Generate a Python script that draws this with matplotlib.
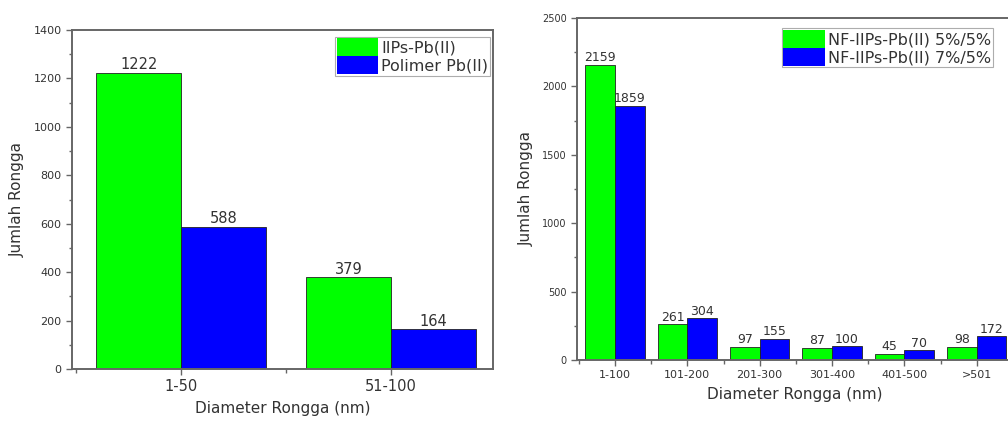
import numpy as np
import matplotlib
matplotlib.use('Agg')
import matplotlib.pyplot as plt
from matplotlib.ticker import MultipleLocator

# left panel data
left_cats = ['1-50', '51-100']
left_iips = [1222, 379]
left_polimer = [588, 164]
left_names = ['IIPs-Pb(II)', 'Polimer Pb(II)']

# right panel data
right_cats = ['1-100', '101-200', '201-300', '301-400', '401-500', '>501']
right_5 = [2159, 261, 97, 87, 45, 98]
right_7 = [1859, 304, 155, 100, 70, 172]
right_names = ['NF-IIPs-Pb(II) 5%/5%', 'NF-IIPs-Pb(II) 7%/5%']

GREEN = '#00ff00'
BLUE = '#0000ff'
TXT = '#333333'
SPINE = '#666666'

plt.rcParams['font.family'] = 'DejaVu Sans'
plt.rcParams['text.color'] = TXT
plt.rcParams['axes.labelcolor'] = TXT
plt.rcParams['xtick.color'] = SPINE
plt.rcParams['ytick.color'] = SPINE
plt.rcParams['xtick.labelcolor'] = TXT
plt.rcParams['ytick.labelcolor'] = TXT

fig = plt.figure(figsize=(10.08, 4.21), dpi=100)


def style_axes(ax, tick_size):
    for s in ax.spines.values():
        s.set_color(SPINE)
        s.set_linewidth(1.4)
    ax.tick_params(which='major', direction='out', length=4, width=1, labelsize=tick_size)
    ax.tick_params(which='minor', direction='out', length=2.5, width=1)
    ax.tick_params(axis='x', which='minor', length=3)


def grouped(ax, cats, a, b, names, width, val_size, tick_size, xlab_size, leg_size, leg_anchor):
    x = np.arange(len(cats))
    b1 = ax.bar(x - width / 2, a, width, color=GREEN, edgecolor='#222222', linewidth=0.6, label=names[0])
    b2 = ax.bar(x + width / 2, b, width, color=BLUE, edgecolor='#222222', linewidth=0.6, label=names[1])
    for bars in (b1, b2):
        ax.bar_label(bars, padding=0.5, fontsize=val_size, color=TXT)
    ax.set_xticks(x)
    ax.set_xticklabels(cats, fontsize=xlab_size)
    ax.xaxis.set_minor_locator(MultipleLocator(0.5))
    ax.set_xlabel('Diameter Rongga (nm)', fontsize=11, labelpad=5)
    ax.set_ylabel('Jumlah Rongga', fontsize=11, labelpad=6)
    style_axes(ax, tick_size)
    ax.tick_params(axis='x', labelsize=xlab_size)
    leg = ax.legend(loc='upper left', bbox_to_anchor=leg_anchor, fontsize=leg_size,
                    handlelength=2.6, handleheight=1.35, labelspacing=0.0,
                    borderpad=0.1, handletextpad=0.2, borderaxespad=0,
                    fancybox=False, frameon=True, edgecolor='#999999')
    leg.get_frame().set_linewidth(0.8)
    for h in leg.legend_handles:
        h.set_edgecolor('none')
    return ax


# left panel
ax1 = fig.add_axes([0.0714, 0.1235, 0.4177, 0.8052])
grouped(ax1, left_cats, left_iips, left_polimer, left_names, 0.405,
        10.5, 8, 10.5, 11.5, (0.625, 0.98))
ax1.set_xlim(-0.52, 1.485)
ax1.set_ylim(0, 1400)
ax1.yaxis.set_major_locator(MultipleLocator(200))
ax1.yaxis.set_minor_locator(MultipleLocator(100))

# right panel
ax2 = fig.add_axes([0.5724, 0.1449, 0.4325, 0.8124])
grouped(ax2, right_cats, right_5, right_7, right_names, 0.41,
        9, 7, 8, 11.5, (0.47, 0.97))
ax2.set_xlim(-0.525, 5.5)
ax2.set_ylim(0, 2500)
ax2.yaxis.set_major_locator(MultipleLocator(500))
ax2.yaxis.set_minor_locator(MultipleLocator(250))

fig.savefig('out.png', dpi=100)
